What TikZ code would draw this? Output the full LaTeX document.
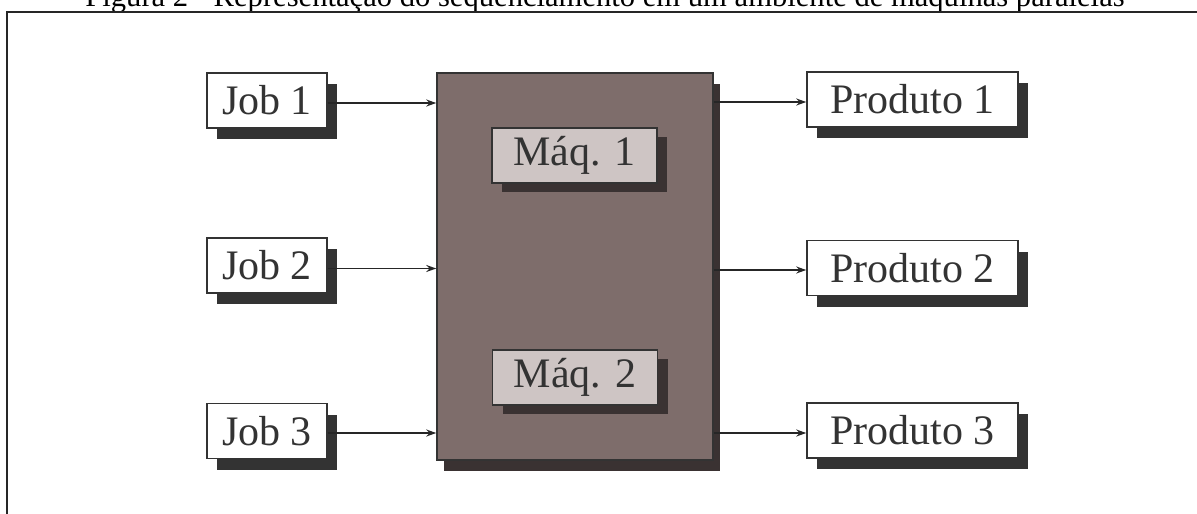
\documentclass[tikz,border=0pt]{standalone}
\usepackage{fontspec}
\setmainfont{Liberation Serif}
\usetikzlibrary{arrows.meta,shadows,calc}
\definecolor{boxtext}{HTML}{333333}
\definecolor{shadowgray}{HTML}{333333}
\definecolor{mainfill}{HTML}{7E6D6B}
\definecolor{mainshadow}{HTML}{3A3232}
\definecolor{maqfill}{HTML}{CEC5C4}
\tikzset{
  whitebox/.style={draw=black!80, line width=1.5pt, fill=white, inner sep=0pt,
    minimum height=55pt, text=boxtext, font=\fontsize{42}{50}\selectfont,
    copy shadow={shadow xshift=10pt, shadow yshift=-11pt, fill=shadowgray, draw=none}},
  mainbox/.style={draw=black!80, line width=1.5pt, fill=mainfill, inner sep=0pt,
    minimum width=276pt, minimum height=387pt,
    copy shadow={shadow xshift=7pt, shadow yshift=-11pt, fill=mainshadow, draw=none}},
  maqbox/.style={draw=black!80, line width=1.5pt, fill=maqfill, inner sep=0pt,
    minimum width=165pt, minimum height=55pt, text=boxtext, font=\fontsize{42}{50}\selectfont,
    copy shadow={shadow xshift=10pt, shadow yshift=-9pt, fill=mainshadow, draw=none}},
  arr/.style={line width=1.6pt, draw=black!85, -{Stealth[length=10pt,width=7pt]}},
  framestyle/.style={line width=2pt, draw=black!85},
}
\begin{document}
\begin{tikzpicture}[x=1pt,y=-1pt]
\useasboundingbox (0,0) rectangle (1197,514);
% caption (partially cut at top, as in the reference)
\node[anchor=base, inner sep=0pt, font=\fontsize{30.6}{36}\selectfont] (cap) at (605,6.5)
  {Figura 2 - Representação do sequenciamento em um ambiente de máquinas paralelas};
% frame
\coordinate (ftr) at (1210,12);
\coordinate (ftl) at (7,12);
\coordinate (fbl) at (7,530);
\draw[framestyle] (ftr) -- (ftl) -- (fbl);
% main box
\node[mainbox] (main) at (575,266.5) {};
\node[maqbox] (m1) at (574.5,155.5) {Máq. 1};
\node[maqbox] (m2) at (575,377.5) {Máq. 2};
% jobs
\node[whitebox, minimum width=120pt] (j1) at (267,100.5) {Job 1};
\node[whitebox, minimum width=120pt] (j2) at (267,265.5) {Job 2};
\node[whitebox, minimum width=120pt] (j3) at (267,431) {Job 3};
% products
\node[whitebox, minimum width=211pt] (p1) at (912.5,99.5) {Produto 1};
\node[whitebox, minimum width=211pt] (p2) at (912.5,268) {Produto 2};
\node[whitebox, minimum width=211pt] (p3) at (912.5,430.5) {Produto 3};
% arrows
\draw[arr] ($(j1.east)+(0,2.5)$) -- ($(j1.east -| main.west)+(0,2.5)$);
\draw[arr] ($(j2.east)+(0,3)$) -- ($(j2.east -| main.west)+(0,3)$);
\draw[arr] ($(j3.east)+(0,2)$) -- ($(j3.east -| main.west)+(0,2)$);
\draw[arr] ($(main.east |- p1.west)+(0,2.5)$) -- ($(p1.west)+(0,2.5)$);
\draw[arr] ($(main.east |- p2.west)+(0,2)$) -- ($(p2.west)+(0,2)$);
\draw[arr] ($(main.east |- p3.west)+(0,2.5)$) -- ($(p3.west)+(0,2.5)$);
\end{tikzpicture}
\end{document}
